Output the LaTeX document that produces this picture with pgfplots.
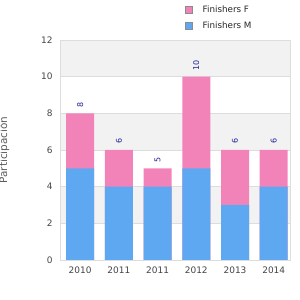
\documentclass[border=0pt]{standalone}
\usepackage{pgfplots}
\pgfplotsset{compat=1.18}
\usepackage{fontspec}
\setmainfont{DejaVu Sans}
\definecolor{pinkF}{RGB}{242,131,185}
\definecolor{blueM}{RGB}{94,168,242}
\definecolor{band}{RGB}{242,242,242}
\definecolor{gridc}{RGB}{221,221,221}
\definecolor{txt}{RGB}{68,68,68}
\definecolor{vallab}{RGB}{34,34,150}
\begin{document}
\begin{tikzpicture}
\path[use as bounding box] (-60bp,-40bp) rectangle (240bp,260bp);
\begin{axis}[
  anchor=south west, at={(0,0)},
  scale only axis, width=230bp, height=220bp,
  axis background/.style={path picture={
    \fill[band] ([yshift=183.333bp]path picture bounding box.south west) rectangle (path picture bounding box.north east);
    \fill[band] ([yshift=110bp]path picture bounding box.south west) rectangle ([yshift=-73.333bp]path picture bounding box.north east);
    \fill[band] ([yshift=36.667bp]path picture bounding box.south west) rectangle ([yshift=-146.667bp]path picture bounding box.north east);
  }},
  ybar, bar width=28bp, bar shift=0pt,
  xmin=-0.52, xmax=5.42, ymin=0, ymax=12,
  xtick={0,1,2,3,4,5},
  xticklabels={2010,2011,2011,2012,2013,2014},
  ytick={0,2,4,6,8,10,12},
  ymajorgrids, grid style={gridc, line width=0.8pt},
  axis line style={gridc, line width=0.8pt},
  major tick length=0pt,
  tick label style={font=\fontsize{9}{10}\selectfont, text=txt},
  ytick style={draw=none}, xtick style={draw=none},
  yticklabel style={xshift=-4bp},
  xticklabel style={yshift=-3bp},
  /pgf/number format/assume math mode=true,
  ylabel={Participación},
  ylabel style={at={(axis description cs:-0.243,0.5)}, anchor=center, font=\fontsize{10.5}{12}\selectfont, text=black!65},
  legend style={at={(rel axis cs:0.543,1.165)}, anchor=north west, draw=none, fill=none,
    font=\fontsize{8.8}{10}\selectfont, text=black!85, row sep=4bp, column sep=8bp, inner sep=0pt},
  legend cell align=left,
  legend image code/.code={\draw[#1, draw=gray!90, line width=0.6pt] (0bp,-3.5bp) rectangle (7bp,3.5bp);},
]
% totals (F on top of M)
\addplot[fill=pinkF, draw=none, bar shift=0pt,
  nodes near coords,
  every node near coord/.append style={rotate=90, anchor=west, inner xsep=6bp, inner ysep=0pt,
    font=\fontsize{8}{9}\selectfont, text=vallab}]
  coordinates {(0,8) (1,6) (2,5) (3,10) (4,6) (5,6)};
\addlegendentry{Finishers F}
% M
\addplot[fill=blueM, draw=none, bar shift=0pt] coordinates {(0,5) (1,4) (2,4) (3,5) (4,3) (5,4)};
\addlegendentry{Finishers M}
\end{axis}
\end{tikzpicture}
\end{document}
